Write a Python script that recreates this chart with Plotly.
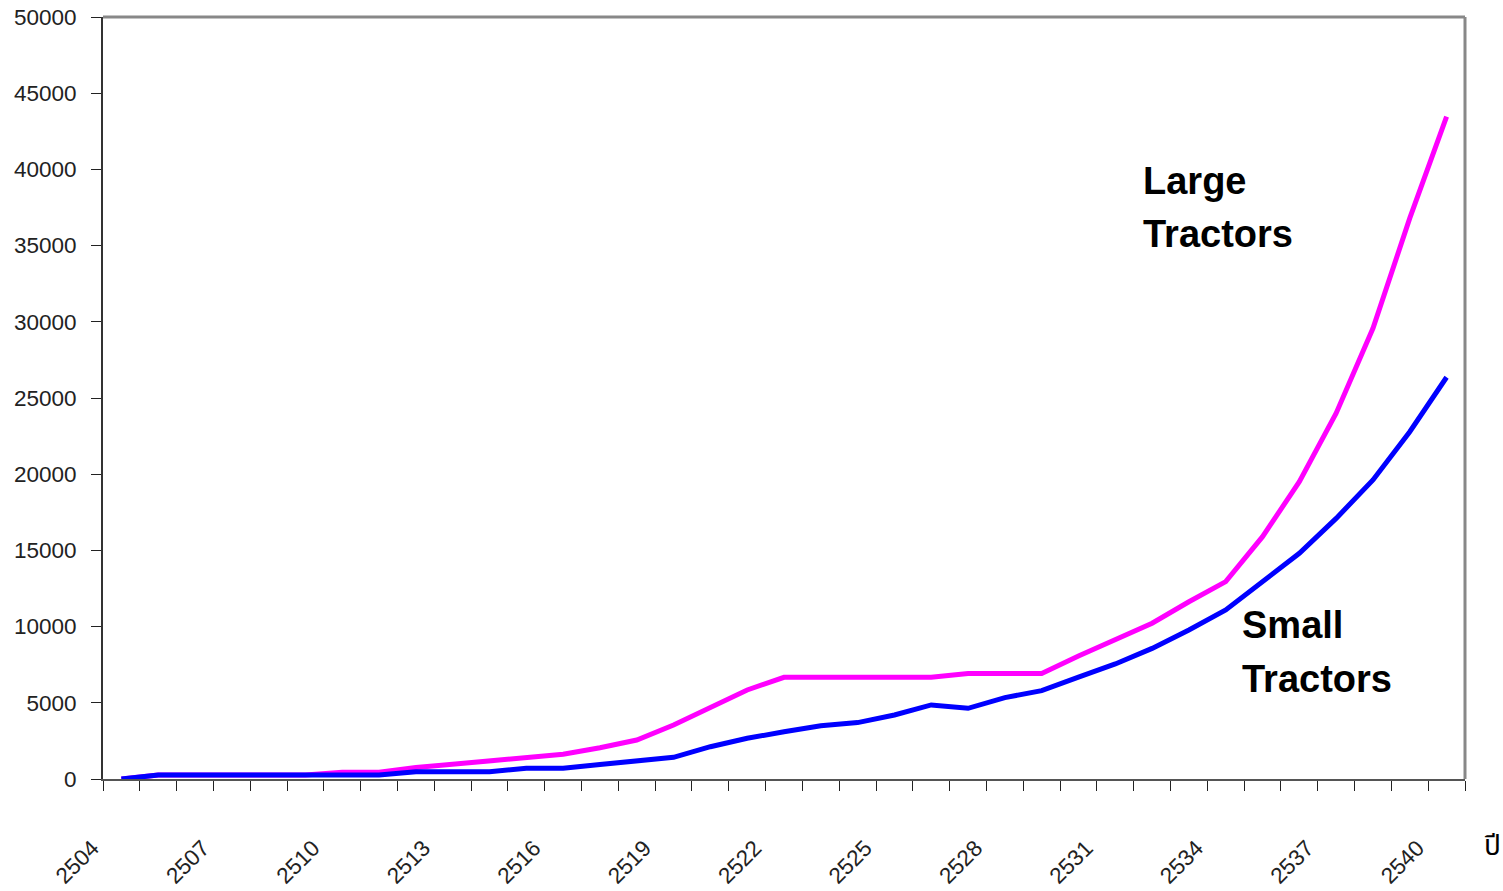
import plotly.graph_objects as go

# Buddhist-era years
years = list(range(2504, 2541))

# Number of large tractors per year
large_tractors = [0, 260, 260, 260, 260, 260, 450, 450, 750, 950,
                  1150, 1380, 1620, 2050, 2560, 3540, 4700, 5840, 6670, 6670,
                  6670, 6670, 6670, 6930, 6930, 6930, 8070, 9120, 10220, 11630,
                  12950, 15900, 19510, 24000, 29570, 36800, 43460]

# Number of small tractors per year
small_tractors = [0, 260, 260, 260, 260, 260, 260, 260, 480, 480,
                  480, 700, 700, 950, 1200, 1420, 2120, 2670, 3100, 3500,
                  3700, 4200, 4860, 4640, 5340, 5800, 6690, 7550, 8570, 9780,
                  11090, 12930, 14810, 17100, 19620, 22790, 26360]

label_years = years[::3]
y_ticks = list(range(0, 50001, 5000))

fig = go.Figure()
fig.add_trace(go.Scatter(x=years, y=large_tractors, mode="lines",
                         line=dict(color="#FF00FF", width=5), name="Large Tractors"))
fig.add_trace(go.Scatter(x=years, y=small_tractors, mode="lines",
                         line=dict(color="#0000FF", width=5), name="Small Tractors"))

tick_font = dict(family="Liberation Sans, Arial, sans-serif", size=22.5, color="#222222")
label_font = dict(family="Liberation Sans, Arial, sans-serif", size=38, color="black", weight="bold")


def series_label(text, x, y):
    return dict(text=text, x=x, y=y, xref="x", yref="y", xanchor="left", yanchor="middle",
                showarrow=False, align="left", font=label_font)


fig.update_layout(
    width=1503, height=891,
    margin=dict(l=103, r=38, t=17, b=112),
    paper_bgcolor="white", plot_bgcolor="white",
    showlegend=False,
    xaxis=dict(
        range=[2503.5, 2540.5],
        tickvals=label_years,
        ticktext=[str(y) for y in label_years],
        tickangle=-45,
        ticks="",
        ticklabelstandoff=45,
        ticklabelshift=-29,
        tickfont=tick_font,
        showgrid=False, zeroline=False, automargin=False,
        showline=True, linecolor="#555555", linewidth=2,
        minor=dict(tick0=2503.5, dtick=1, ticks="outside", ticklen=10,
                   tickwidth=1, tickcolor="#222222", showgrid=False),
    ),
    yaxis=dict(
        range=[0, 50000],
        tickvals=y_ticks,
        ticktext=[str(v) for v in y_ticks],
        ticks="outside", ticklen=10, tickwidth=1, tickcolor="#222222",
        ticklabelstandoff=10,
        tickfont=tick_font,
        showgrid=False, zeroline=False, automargin=False,
        showline=True, linecolor="#333333", linewidth=2,
    ),
    shapes=[
        dict(type="line", xref="paper", yref="paper", x0=0, x1=1, y0=1, y1=1,
             line=dict(color="#888888", width=3)),
        dict(type="line", xref="paper", yref="paper", x0=1, x1=1, y0=0, y1=1,
             line=dict(color="#888888", width=3)),
    ],
    annotations=[
        series_label("Large", 2531.7, 39240),
        series_label("Tractors", 2531.7, 35790),
        series_label("Small", 2534.4, 10100),
        series_label("Tractors", 2534.4, 6560),
        dict(text="ปี", x=1.0125, y=-0.089, xref="paper", yref="paper",
             xanchor="left", yanchor="middle", showarrow=False,
             font=dict(family="Tahoma, Noto Sans Thai, sans-serif", size=28, color="black")),
    ],
)

fig.write_html("out.html")
